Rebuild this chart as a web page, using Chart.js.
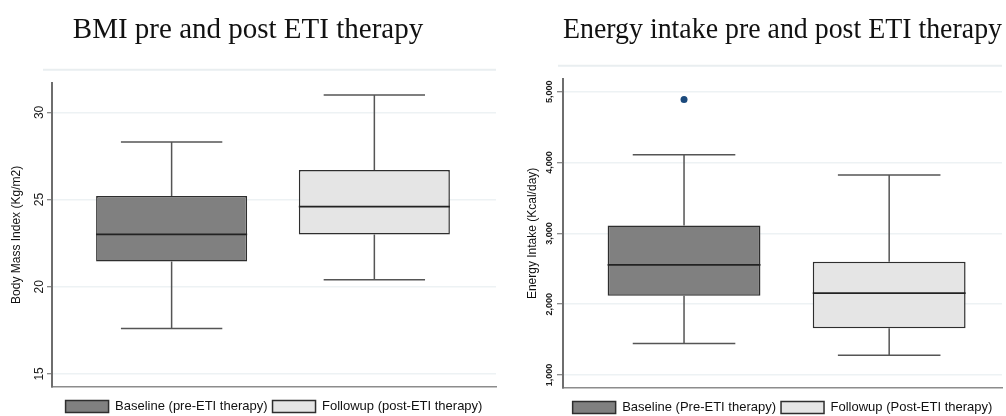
<!DOCTYPE html>
<html>
<head>
<meta charset="utf-8">
<script src="https://cdn.jsdelivr.net/npm/chart.js@4.4.1/dist/chart.umd.min.js"></script>
<style>
  body { margin: 0; background: #fff; }
  .panel { position: absolute; top: 0; width: 503px; height: 416px; }
  #left { left: 0; }
  #right { left: 503px; }
</style>
</head>
<body>
<div class="panel" id="left"><canvas id="bmi"></canvas></div>
<div class="panel" id="right"><canvas id="energy"></canvas></div>
<script>
// box positions on the x scale
const groupPos = [1, 2];

// BMI box stats: [min, q1, median, q3, max]
const bmiBaseline = [17.6, 21.45, 23.0, 25.2, 28.3];
const bmiFollowup = [20.4, 23.0, 24.6, 26.7, 31.0];
const bmiTicks = [15, 20, 25, 30];
const bmiLegend = ["Baseline (pre-ETI therapy)", "Followup (post-ETI therapy)"];

// Energy intake box stats: [min, q1, median, q3, max]
const energyBaseline = [1445, 2120, 2555, 3110, 4110];
const energyFollowup = [1280, 1660, 2155, 2600, 3825];
const energyOutliers = [4890]; // baseline group
const energyTicks = [1000, 2000, 3000, 4000, 5000];
const energyLegend = ["Baseline (Pre-ETI therapy)", "Followup (Post-ETI therapy)"];

const darkFill = "#808080";
const lightFill = "#e5e5e5";
const lineCol = "#2e2e2e";
const gridCol = "#edf2f4";

// draws medians, whiskers and caps from the dataset stats
const whiskerPlugin = {
  id: "whiskers",
  afterDatasetsDraw(chart) {
    const ctx = chart.ctx;
    const xs = chart.scales.x;
    const ys = chart.scales.y;
    ctx.save();
    chart.data.datasets.forEach((ds, i) => {
      if (!ds.stats) return;
      const bar = chart.getDatasetMeta(i).data[0];
      const cx = xs.getPixelForValue(ds.data[0].x);
      const half = bar.width / 2;
      const cap = xs.getPixelForValue(ds.data[0].x + 0.25) - cx;
      const [mn, q1, med, q3, mx] = ds.stats.map((v) => ys.getPixelForValue(v));
      ctx.strokeStyle = "#555";
      ctx.lineWidth = 1.5;
      ctx.beginPath();
      ctx.moveTo(cx, q3); ctx.lineTo(cx, mx);
      ctx.moveTo(cx - cap, mx); ctx.lineTo(cx + cap, mx);
      ctx.moveTo(cx, q1); ctx.lineTo(cx, mn);
      ctx.moveTo(cx - cap, mn); ctx.lineTo(cx + cap, mn);
      ctx.stroke();
      ctx.strokeStyle = "#222";
      ctx.lineWidth = 1.8;
      ctx.beginPath();
      ctx.moveTo(cx - half, med); ctx.lineTo(cx + half, med);
      ctx.stroke();
    });
    ctx.restore();
  }
};

// faint frame line above the plot area
const frameLinePlugin = {
  id: "frameLine",
  beforeDraw(chart, args, opts) {
    const a = chart.chartArea;
    const ctx = chart.ctx;
    ctx.save();
    ctx.strokeStyle = "#e9eef0";
    ctx.lineWidth = 2;
    ctx.beginPath();
    ctx.moveTo(a.left + opts.dx, a.top + opts.dy);
    ctx.lineTo(a.right, a.top + opts.dy);
    ctx.stroke();
    ctx.restore();
  }
};

function boxDataset(label, stats, pos, fill) {
  return {
    type: "bar",
    label: label,
    stats: stats,
    data: [{ x: pos, y: [stats[1], stats[3]] }],
    backgroundColor: fill,
    borderColor: lineCol,
    borderWidth: 1.5,
    borderSkipped: false,
    grouped: false,
    barPercentage: 0.745,
    categoryPercentage: 1,
    order: 2
  };
}

function makeChart(id, cfg) {
  return new Chart(document.getElementById(id), {
    type: "bar",
    data: { datasets: cfg.datasets },
    options: {
      responsive: true,
      maintainAspectRatio: false,
      animation: false,
      layout: { padding: cfg.padding },
      scales: {
        x: {
          type: "linear",
          offset: false,
          min: cfg.xMin,
          max: cfg.xMax,
          afterBuildTicks: (axis) => { axis.ticks = groupPos.map((v) => ({ value: v })); },
          ticks: { display: false },
          grid: { display: false },
          border: { display: true, color: "#8c8c8c", width: 1.5 }
        },
        y: {
          min: cfg.yMin,
          max: cfg.yMax,
          afterBuildTicks: (axis) => { axis.ticks = cfg.ticks.map((v) => ({ value: v })); },
          afterFit: (axis) => { axis.width = cfg.axisWidth; },
          ticks: {
            minRotation: 90,
            maxRotation: 90,
            crossAlign: "center",
            padding: cfg.tickPadding,
            color: "#1a1a1a",
            font: cfg.tickFont,
            callback: (v) => v.toLocaleString("en-US")
          },
          grid: { color: gridCol, lineWidth: 1.5, tickLength: cfg.tickLength, tickColor: "#666", tickWidth: 1 },
          border: { color: "#6e6e6e", width: 2 },
          title: {
            display: true,
            text: cfg.yTitle,
            color: "#111",
            font: { family: "'Liberation Sans', Arial, sans-serif", size: 12 },
            padding: { top: cfg.yTitleX - 7.2, bottom: 0 }
          }
        }
      },
      plugins: {
        title: {
          display: true,
          text: cfg.title,
          fullSize: cfg.titleFull,
          color: "#111",
          font: { family: "'Liberation Serif', 'Times New Roman', serif", size: 29, weight: "normal" },
          padding: cfg.titlePadding
        },
        legend: {
          position: "bottom",
          fullSize: false,
          labels: {
            filter: (item) => item.datasetIndex < 2,
            boxWidth: 43,
            boxHeight: 12,
            padding: 5,
            color: "#111",
            font: { family: "'Liberation Sans', Arial, sans-serif", size: 13 }
          }
        },
        tooltip: { enabled: false },
        frameLine: cfg.frame
      }
    },
    plugins: [whiskerPlugin, frameLinePlugin]
  });
}

makeChart("bmi", {
  datasets: [
    boxDataset(bmiLegend[0], bmiBaseline, groupPos[0], darkFill),
    boxDataset(bmiLegend[1], bmiFollowup, groupPos[1], lightFill)
  ],
  title: "BMI pre and post ETI therapy",
  titleFull: true,
  titlePadding: { top: 13, bottom: 35 },
  padding: { left: 0, right: 7, bottom: -7 },
  axisWidth: 52,
  xMin: 0.41, xMax: 2.6,
  yMin: 14.25, yMax: 31.7,
  ticks: bmiTicks,
  tickFont: { family: "'Liberation Sans', Arial, sans-serif", size: 12 },
  tickPadding: 0.3,
  tickLength: 5,
  yTitle: "Body Mass Index (Kg/m2)",
  yTitleX: 17,
  frame: { dx: -9, dy: -13 }
});

makeChart("energy", {
  datasets: [
    boxDataset(energyLegend[0], energyBaseline, groupPos[0], darkFill),
    boxDataset(energyLegend[1], energyFollowup, groupPos[1], lightFill),
    {
      type: "scatter",
      label: "outside values",
      data: energyOutliers.map((v) => ({ x: groupPos[0], y: v })),
      pointRadius: 3.5,
      backgroundColor: "#1b4a7c",
      borderWidth: 0,
      order: 1
    }
  ],
  title: "Energy intake pre and post ETI therapy",
  titleFull: false,
  titlePadding: { top: 13, bottom: 31 },
  padding: { left: 0, right: 0, bottom: -8 },
  axisWidth: 60,
  xMin: 0.41, xMax: 2.55,
  yMin: 816, yMax: 5184,
  ticks: energyTicks,
  tickFont: { family: "'Liberation Sans', Arial, sans-serif", size: 9, weight: "bold" },
  tickPadding: -4.25,
  tickLength: 6,
  yTitle: "Energy Intake (Kcal/day)",
  yTitleX: 30,
  frame: { dx: -5, dy: -13 }
});
</script>
</body>
</html>
